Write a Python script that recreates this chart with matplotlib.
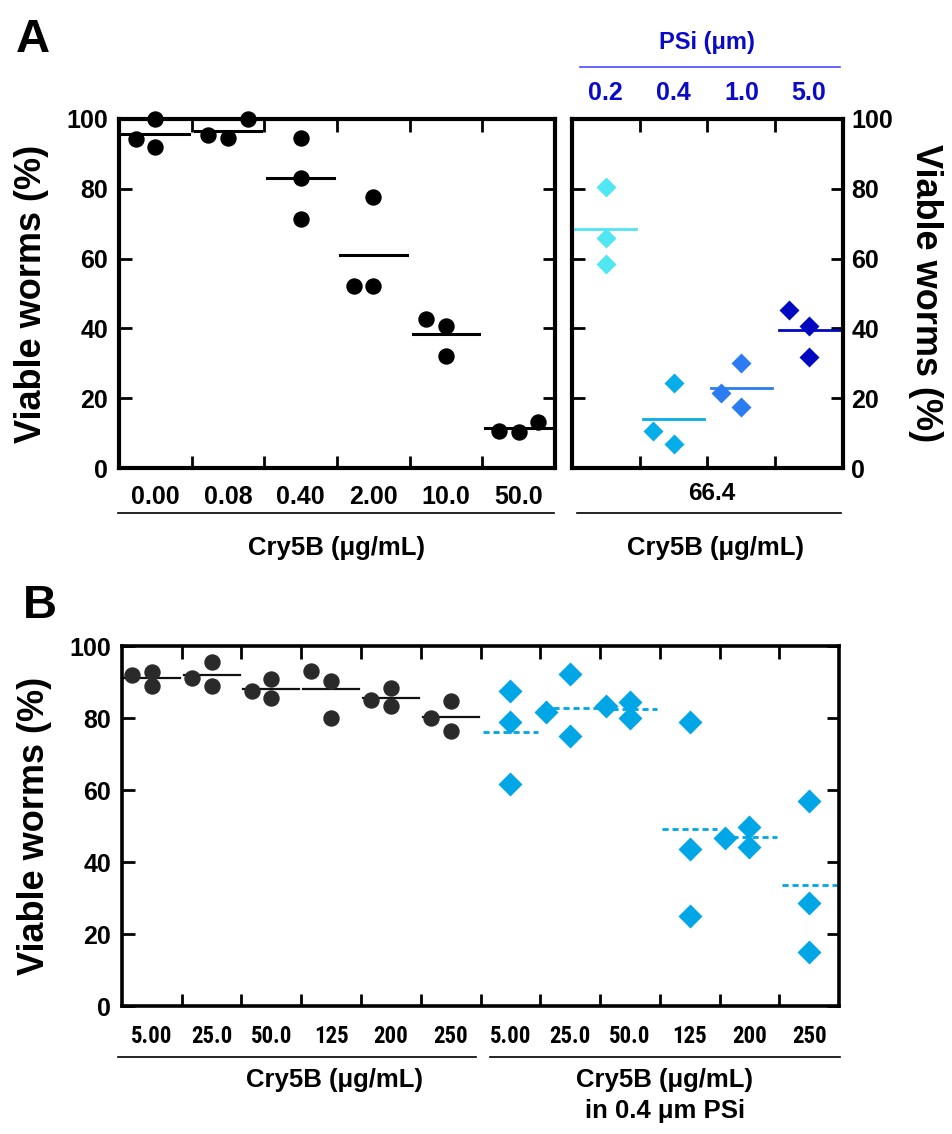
import numpy as np
import matplotlib
matplotlib.use('Agg')
import matplotlib.pyplot as plt
from matplotlib.lines import Line2D
from matplotlib import font_manager

plt.rcParams['font.family'] = ['Liberation Sans', 'DejaVu Sans']
plt.rcParams['font.weight'] = 'bold'
plt.rcParams['axes.labelweight'] = 'bold'

# ---- data ----
# panel A, left: Cry5B alone
a_labels = ['0.00', '0.08', '0.40', '2.00', '10.0', '50.0']
a_vals = [[94.3, 100.0, 92.0], [95.4, 94.6, 100.0], [94.6, 83.1, 71.3],
          [52.1, 52.1, 77.7], [42.7, 40.7, 32.1], [10.6, 10.3, 13.2]]
a_jitter = [[-0.27, 0, 0], [-0.27, 0, 0.27], [0, 0, 0],
            [-0.27, 0, 0], [-0.27, 0, 0], [-0.27, 0, 0.27]]
a_means = [95.7, 96.6, 83.0, 61.0, 38.4, 11.5]

# panel A, right: 66.4 ug/mL Cry5B with PSi particles
psi_labels = ['0.2', '0.4', '1.0', '5.0']
psi_vals = [[80.5, 65.9, 58.5], [10.6, 24.4, 6.9], [21.5, 30.1, 17.5], [45.3, 40.7, 31.8]]
psi_jitter = [[0, 0, 0], [-0.3, 0, 0], [-0.3, 0, 0], [-0.3, 0, 0]]
psi_means = [68.5, 14.0, 22.9, 39.5]
psi_colors = ['#50e6f2', '#05aee8', '#2a7cf0', '#0008c0']

# panel B
b_labels = ['5.00', '25.0', '50.0', '125', '200', '250']
b_ctrl = [[91.9, 92.7, 88.8], [91.1, 95.5, 88.8], [87.4, 90.8, 85.5],
          [93.0, 90.2, 79.9], [84.9, 88.3, 83.2], [79.9, 84.6, 76.5]]
b_ctrl_means = [91.1, 91.9, 88.0, 88.0, 85.5, 80.4]
b_psi = [[87.4, 78.8, 61.7], [81.6, 92.2, 74.9], [83.2, 84.4, 79.9],
         [78.8, 43.6, 24.9], [46.6, 49.7, 44.1], [57.0, 28.5, 15.1]]
b_psi_jitter = [[0, 0, 0], [-0.4, 0, 0], [-0.4, 0, 0], [0, 0, 0], [-0.4, 0, 0], [0, 0, 0]]
b_psi_means = [76.0, 82.7, 82.4, 49.2, 46.9, 33.5]

# narrow font for the panel B tick labels if one is installed
names = {f.name for f in font_manager.fontManager.ttflist}
narrow = None
for cand in ['Liberation Sans Narrow', 'Roboto Condensed', 'Open Sans Condensed']:
    if cand in names:
        narrow = cand
        break

W, H = 953, 1134
fig = plt.figure(figsize=(W / 100, H / 100), dpi=100)


def fx(px):
    return px / W


def fy(py):
    return 1 - py / H


def box(x0, y0, x1, y1):
    return [fx(x0), fy(y1), fx(x1) - fx(x0), fy(y0) - fy(y1)]


def style_axes(ax, n, lw):
    ax.set_xlim(0, n)
    ax.set_ylim(0, 100)
    for s in ax.spines.values():
        s.set_linewidth(lw)
    ax.set_xticks(np.arange(1, n))
    ax.set_xticklabels([])
    ax.set_yticks([0, 20, 40, 60, 80, 100])
    ax.tick_params(axis='both', direction='in', length=9, width=2,
                   top=True, right=True, left=True, bottom=True)
    ax.tick_params(axis='y', labelsize=18, pad=8)


def hline(x0, x1, y, **kw):
    fig.add_artist(Line2D([fx(x0), fx(x1)], [fy(y), fy(y)], transform=fig.transFigure, **kw))


# ---------------- Panel A left ----------------
axA = fig.add_axes(box(119, 119, 555, 468))
style_axes(axA, 6, 3)
for i, vals in enumerate(a_vals):
    xs = [i + 0.5 + j for j in a_jitter[i]]
    axA.plot(xs, vals, 'o', color='black', ms=10.8, clip_on=False, zorder=3)
    axA.plot([i + 0.04, i + 0.96], [a_means[i]] * 2, color='black', lw=2.2, clip_on=False)
axA.set_ylabel('Viable worms (%)', fontsize=26, labelpad=12)
axA.set_xticks(np.arange(6) + 0.5, minor=True)
axA.set_xticklabels(a_labels, minor=True)
axA.tick_params(axis='x', which='minor', length=0, labelsize=18, pad=12)

# ---------------- Panel A right ----------------
axP = fig.add_axes(box(572, 119, 843, 468))
style_axes(axP, 4, 3)
for i, vals in enumerate(psi_vals):
    xs = [i + 0.5 + j for j in psi_jitter[i]]
    axP.plot(xs, vals, 'D', color=psi_colors[i], ms=10.5, mec='none', clip_on=False, zorder=3)
    axP.plot([i + 0.05, i + 0.95 + (0.05 if i == 3 else 0)], [psi_means[i]] * 2,
             color=psi_colors[i], lw=2, clip_on=False)
axP.yaxis.tick_right()
axP.tick_params(axis='y', left=True, right=True, labelleft=False, labelright=True, pad=6)
axP.yaxis.set_label_position('right')
axP.set_ylabel('Viable worms (%)', fontsize=26, rotation=270, labelpad=36)
axP.set_xticks(np.arange(4) + 0.5, minor=True)
axP.set_xticklabels(psi_labels, minor=True)
axP.tick_params(axis='x', which='minor', length=0, labelsize=18, pad=10,
                top=False, labeltop=True, labelbottom=False)
for lbl in axP.get_xticklabels(minor=True):
    lbl.set_color('#0a0ac8')

fig.text(fx(707), fy(42), 'PSi (\u03bcm)', ha='center', va='center', fontsize=17, color='#0a0ac8')
hline(580, 840, 67, color='#4a4aff', lw=1.2)
fig.text(fx(712), fy(494), '66.4', ha='center', va='center', fontsize=17.5)

hline(118, 554, 513, color='black', lw=1.2)
hline(577, 841, 513, color='black', lw=1.2)
fig.text(fx(337), fy(548), 'Cry5B (\u03bcg/mL)', ha='center', va='center', fontsize=18.5)
fig.text(fx(716), fy(548), 'Cry5B (\u03bcg/mL)', ha='center', va='center', fontsize=18.5)

# ---------------- Panel B ----------------
axB = fig.add_axes(box(122, 646, 839, 1006))
style_axes(axB, 12, 2.6)
for i, vals in enumerate(b_ctrl):
    xs = [i + 0.5 - 0.33, i + 0.5, i + 0.5]
    axB.plot(xs, vals, 'o', color='#2a2a2a', ms=10.8, clip_on=False, zorder=3)
    axB.plot([i + 0.03, i + 0.97], [b_ctrl_means[i]] * 2, color='#111111', lw=1.6)
for i, vals in enumerate(b_psi):
    k = i + 6
    xs = [k + 0.5 + j for j in b_psi_jitter[i]]
    axB.plot(xs, vals, 'D', color='#00a6e6', ms=12.5, mec='none', clip_on=False, zorder=3)
    ln, = axB.plot([k + 0.04, k + 0.96], [b_psi_means[i]] * 2, color='#00a6e6', lw=2)
    ln.set_dashes((2.2, 1.4))
axB.set_ylabel('Viable worms (%)', fontsize=26, labelpad=12)
axB.set_xticks(np.arange(12) + 0.5, minor=True)
if narrow:
    axB.set_xticklabels(b_labels + b_labels, minor=True, family=[narrow, 'Liberation Sans'])
    axB.tick_params(axis='x', which='minor', length=0, labelsize=16.5, pad=14)
else:
    axB.set_xticklabels(b_labels + b_labels, minor=True)
    axB.tick_params(axis='x', which='minor', length=0, labelsize=14, pad=14)

hline(118, 476, 1057, color='black', lw=1.2)
hline(490, 840, 1057, color='black', lw=1.2)
fig.text(fx(335), fy(1080), 'Cry5B (\u03bcg/mL)', ha='center', va='center', fontsize=18.5)
fig.text(fx(665), fy(1080), 'Cry5B (\u03bcg/mL)', ha='center', va='center', fontsize=18.5)
fig.text(fx(665), fy(1111), 'in 0.4 \u03bcm PSi', ha='center', va='center', fontsize=18.5)

# panel letters
fig.text(fx(33), fy(40), 'A', ha='center', va='center', fontsize=34)
fig.text(fx(40), fy(606), 'B', ha='center', va='center', fontsize=34)

fig.savefig('out.png', dpi=100)
